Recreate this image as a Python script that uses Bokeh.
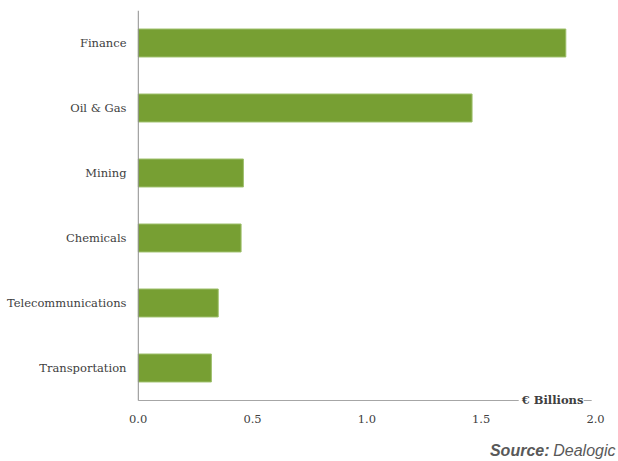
from bokeh.plotting import figure
from bokeh.layouts import column
from bokeh.models import Label, FixedTicker
from bokeh.embed import file_html
from bokeh.resources import INLINE

categories = ["Finance", "Oil & Gas", "Mining", "Chemicals", "Telecommunications", "Transportation"]
values = [1.87, 1.46, 0.46, 0.45, 0.35, 0.32]
x_ticks = [0.0, 0.5, 1.0, 1.5, 2.0]
x_tick_labels = ["0.0", "0.5", "1.0", "1.5", "2.0"]

n = len(categories)
ypos = [n - 1 - i for i in range(n)]
font = "DejaVu Serif"
text_col = "#404040"

p = figure(width=617, height=427, output_backend="svg", toolbar_location=None,
           x_range=(-0.003, 2.096), y_range=(-0.608, n - 0.5),
           min_border_left=137, min_border_right=0, min_border_top=10, min_border_bottom=20)

p.hbar(y=ypos, right=values, left=0, height=0.43, fill_color="#779f33",
       line_color="#9dbf6a", line_width=1)

p.outline_line_color = None
p.xgrid.grid_line_color = None
p.ygrid.grid_line_color = None

p.yaxis.ticker = FixedTicker(ticks=ypos)
p.yaxis.major_label_overrides = {y: c for y, c in zip(ypos, categories)}
p.yaxis.major_tick_line_color = None
p.yaxis.minor_tick_line_color = None
p.yaxis.axis_line_color = None
p.yaxis.major_label_text_font = font
p.yaxis.major_label_text_font_size = "11.5px"
p.yaxis.major_label_text_color = text_col
p.yaxis.major_label_standoff = 5

p.xaxis.ticker = FixedTicker(ticks=x_ticks)
p.xaxis.major_label_overrides = {t: l for t, l in zip(x_ticks, x_tick_labels)}
p.xaxis.major_tick_line_color = None
p.xaxis.minor_tick_line_color = None
p.xaxis.axis_line_color = None
p.xaxis.major_label_text_font = font
p.xaxis.major_label_text_font_size = "11.5px"
p.xaxis.major_label_text_color = text_col
p.xaxis.major_label_standoff = 1

# axis lines drawn inside the frame
p.segment(x0=[0], y0=[-0.5], x1=[0], y1=[n - 0.5], line_color="#8c8c8c", line_width=1.2)
p.segment(x0=[0, 1.948], y0=[-0.5, -0.5], x1=[1.664, 1.983], y1=[-0.5, -0.5],
          line_color="#a6a6a6", line_width=1.2)

unit_lbl = Label(x=1.677, y=-0.5, text="€ Billions", text_font=font, text_font_style="bold",
                 text_font_size="11.5px", text_color=text_col, text_baseline="middle",
                 text_align="left")
p.add_layout(unit_lbl)

# source line as a small strip below the chart (its frame is aligned with the chart's frame)
p2 = figure(width=617, height=34, output_backend="svg", toolbar_location=None,
            x_range=(137, 617), y_range=(0, 34), min_border=0,
            x_axis_location=None, y_axis_location=None)
p2.outline_line_color = None
p2.xgrid.grid_line_color = None
p2.ygrid.grid_line_color = None
p2.add_layout(Label(x=549, y=11, text="Source:", text_font="Liberation Sans",
                    text_font_style="bold italic", text_font_size="16px", text_color="#595959",
                    text_baseline="middle", text_align="right"))
p2.add_layout(Label(x=615, y=11, text="Dealogic", text_font="Liberation Sans",
                    text_font_style="italic", text_font_size="16px", text_color="#595959",
                    text_baseline="middle", text_align="right"))

layout = column(p, p2, spacing=0)
open("out.html", "w").write(file_html(layout, INLINE))
